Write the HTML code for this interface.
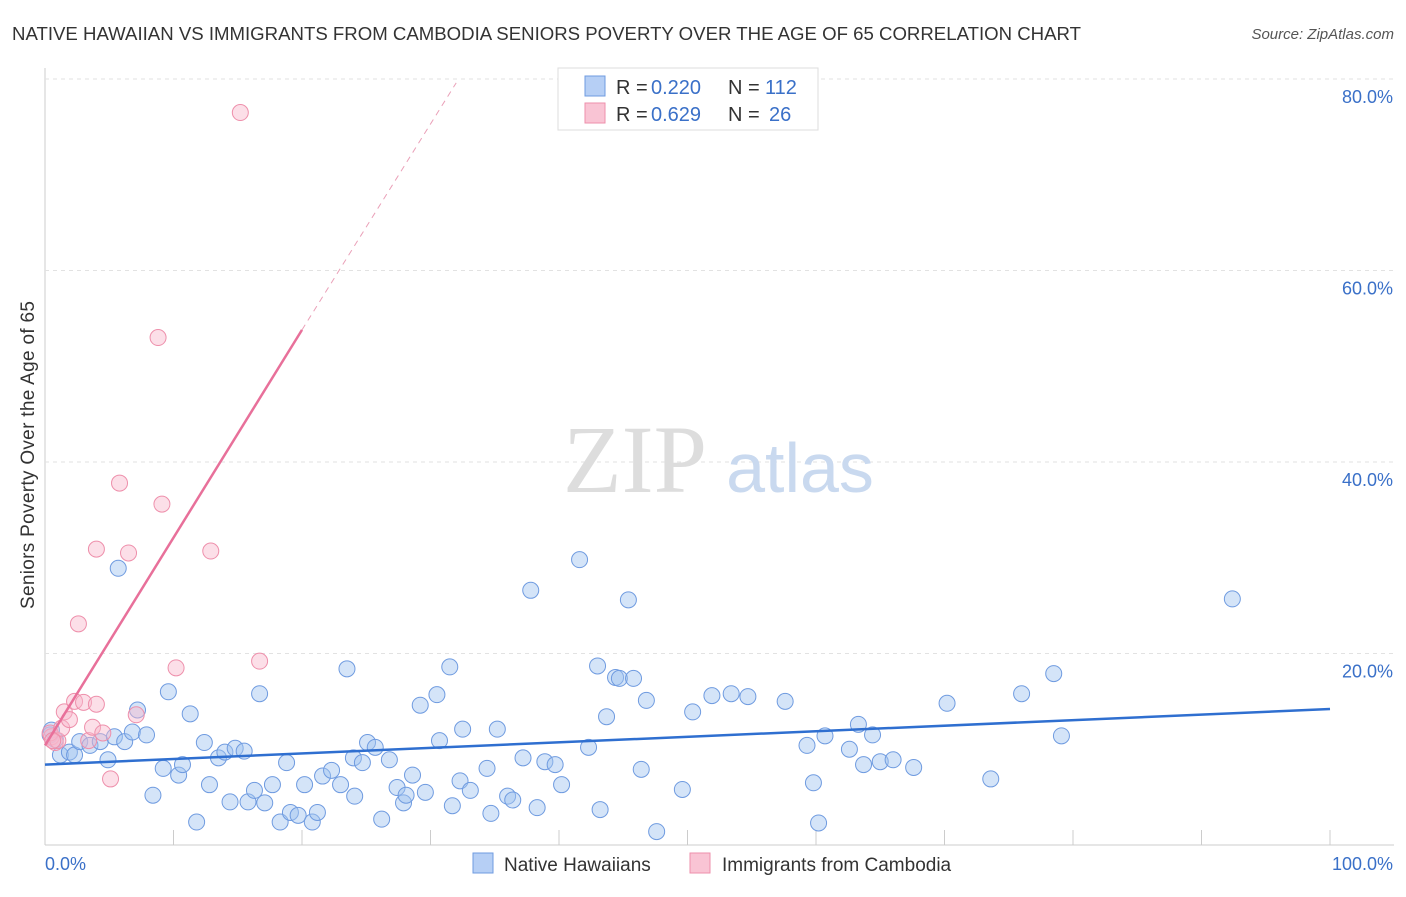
<!DOCTYPE html>
<html><head><meta charset="utf-8"><style>
body{margin:0;background:#fff;font-family:"Liberation Sans",sans-serif;}
</style></head><body>
<svg width="1406" height="892" xmlns="http://www.w3.org/2000/svg">
<text x="12" y="40" font-size="18" fill="#333" textLength="1069" lengthAdjust="spacingAndGlyphs">NATIVE HAWAIIAN VS IMMIGRANTS FROM CAMBODIA SENIORS POVERTY OVER THE AGE OF 65 CORRELATION CHART</text>
<text x="1394" y="39" font-size="15" fill="#555" font-style="italic" text-anchor="end">Source: ZipAtlas.com</text>
<g id="grid"></g>
<text x="635" y="492" font-size="96" fill="#ddd" font-family="Liberation Serif" text-anchor="middle">ZIP</text>
<text x="800" y="492" font-size="70" fill="#c9d9ef" text-anchor="middle">atlas</text>
<text transform="translate(34,455) rotate(-90)" font-size="19" fill="#333" text-anchor="middle" textLength="308">Seniors Poverty Over the Age of 65</text>
<g id="pts"></g>
<g id="trend"></g>
<rect x="558" y="68" width="260" height="62" fill="#fff" stroke="#ddd"/>
<rect x="585" y="76" width="20" height="20" fill="#b6cff5" stroke="#6f9be0"/>
<rect x="585" y="103" width="20" height="20" fill="#f9c4d4" stroke="#ee8fab"/>
<g font-size="20" fill="#333">
<text x="616" y="94">R =</text><text x="651" y="94" fill="#3a70c8">0.220</text><text x="728" y="94">N =</text><text x="765" y="94" fill="#3a70c8">112</text>
</g>
<g font-size="20" fill="#333">
<text x="616" y="121">R =</text><text x="651" y="121" fill="#3a70c8">0.629</text><text x="728" y="121">N =</text><text x="769" y="121" fill="#3a70c8">26</text>
</g>
<rect x="473" y="853" width="20" height="20" fill="#b6cff5" stroke="#6f9be0"/>
<text x="504" y="871" font-size="19" fill="#333">Native Hawaiians</text>
<rect x="690" y="853" width="20" height="20" fill="#f9c4d4" stroke="#ee8fab"/>
<text x="722" y="871" font-size="19" fill="#333">Immigrants from Cambodia</text>
<text x="45" y="870" font-size="18" fill="#3a70c8">0.0%</text>
<text x="1393" y="870" font-size="18" fill="#3a70c8" text-anchor="end">100.0%</text>
</svg>
<script>
const yTicks=[20,40,60,80];
const xTicks=[0,10,20,30,40,50,60,70,80,90,100];
const blueX=[0.4,0.8,1.2,0.5,1.9,2.3,2.7,3.5,4.3,4.9,5.4,5.7,6.2,6.8,7.2,7.9,8.4,9.2,9.6,10.4,10.7,11.3,11.8,12.4,12.8,13.5,14.0,14.4,14.8,15.5,15.8,16.3,16.7,17.1,17.7,18.3,18.8,19.1,19.7,20.2,20.8,21.2,21.6,22.3,23.0,23.5,24.0,24.1,24.7,25.1,25.7,26.2,26.8,27.4,27.9,28.1,28.6,29.2,29.6,30.5,30.7,31.5,31.7,32.3,32.5,33.1,34.4,34.7,35.2,36.0,36.4,37.2,37.8,38.3,38.9,39.7,40.2,41.6,42.3,43.0,43.2,43.7,44.4,44.7,45.4,45.8,46.4,46.8,47.6,49.6,50.4,51.9,53.4,54.7,57.6,59.3,59.8,60.2,60.7,62.6,63.3,63.7,64.4,65.0,66.0,67.6,70.2,73.6,76.0,78.5,79.1,92.4];
const blueY=[11.5,11.0,9.4,12.0,9.7,9.4,10.8,10.4,10.8,8.9,11.3,28.9,10.8,11.8,14.1,11.5,5.2,8.0,16.0,7.3,8.4,13.7,2.4,10.7,6.3,9.1,9.7,4.5,10.1,9.8,4.5,5.7,15.8,4.4,6.3,2.4,8.6,3.4,3.1,6.3,2.4,3.4,7.2,7.8,6.3,18.4,9.1,5.1,8.6,10.7,10.2,2.7,8.9,6.0,4.4,5.2,7.3,14.6,5.5,15.7,10.9,18.6,4.1,6.7,12.1,5.7,8.0,3.3,12.1,5.1,4.7,9.1,26.6,3.9,8.7,8.4,6.3,29.8,10.2,18.7,3.7,13.4,17.5,17.4,25.6,17.4,7.9,15.1,1.4,5.8,13.9,15.6,15.8,15.5,15.0,10.4,6.5,2.3,11.4,10.0,12.6,8.4,11.5,8.7,8.9,8.1,14.8,6.9,15.8,17.9,11.4,25.7];
const pinkX=[0.5,0.8,0.4,1.0,1.3,1.5,1.9,2.3,2.6,3.0,3.4,3.7,4.0,4.0,4.5,5.1,5.8,6.5,7.1,8.8,9.1,10.2,12.9,15.2,16.7,0.6];
const pinkY=[11.3,10.7,11.7,10.9,12.2,13.9,13.1,15.0,23.1,14.9,10.9,12.3,14.7,30.9,11.7,6.9,37.8,30.5,13.6,53.0,35.6,18.5,30.7,76.5,19.2,10.9];
const X=v=>45+v*12.85, Y=v=>845-v*9.575;
const NS="http://www.w3.org/2000/svg";
function mk(t,a,p){const e=document.createElementNS(NS,t);for(const k in a)e.setAttribute(k,a[k]);p.appendChild(e);return e;}
const g=document.getElementById('grid');
const ax=mk('line',{x1:45,y1:68,x2:45,y2:845,stroke:'#ccc'},g);


const bx=mk('line',{x1:45,y1:845,x2:1394,y2:845,stroke:'#ccc'},g);


yTicks.forEach(t=>{
 const l=mk('line',{x1:45,y1:Y(t),x2:1394,y2:Y(t),stroke:'#e2e2e2','stroke-dasharray':'4,4'},g);
 
 
 const tx=mk('text',{x:1393,y:Y(t)+24,'font-size':18,fill:'#3a70c8','text-anchor':'end'},g);
 tx.textContent=t.toFixed(1)+'%';
 
 
});
xTicks.forEach(t=>{
 const l=mk('line',{x1:X(t),y1:830,x2:X(t),y2:845,stroke:'#ccc'},g);
 
 
});
const p=document.getElementById('pts');
blueX.forEach((v,i)=>{
 const c=mk('circle',{cx:X(v),cy:Y(blueY[i]),r:8,fill:'rgba(160,195,240,0.45)',stroke:'#6f9be0','stroke-width':1},p);
 
 
});
pinkX.forEach((v,i)=>{
 const c=mk('circle',{cx:X(v),cy:Y(pinkY[i]),r:8,fill:'rgba(248,185,205,0.45)',stroke:'#ee8fab','stroke-width':1},p);
 
 
});
const tr=document.getElementById('trend');
const b=mk('line',{x1:X(0),y1:Y(8.4),x2:X(100),y2:Y(14.2),stroke:'#2f6fd0','stroke-width':2.5},tr);


const pk=mk('line',{x1:X(0),y1:Y(10.4),x2:X(20),y2:Y(53.8),stroke:'#e8709a','stroke-width':2.5},tr);


const pd=mk('line',{x1:X(20),y1:Y(53.8),x2:X(32),y2:Y(79.6),stroke:'#eaa0b8','stroke-width':1,'stroke-dasharray':'6,5'},tr);


</script>
</body></html>
